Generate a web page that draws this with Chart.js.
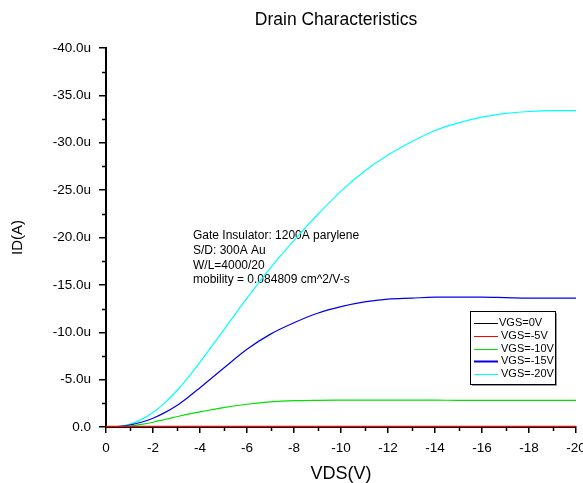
<!DOCTYPE html>
<html>
<head>
<meta charset="utf-8">
<script src="https://cdn.jsdelivr.net/npm/chart.js@4.4.0/dist/chart.umd.min.js"></script>
<style>
  html, body { margin: 0; padding: 0; background: #fff; }
</style>
</head>
<body>
<canvas id="drain-canvas" width="583" height="483"></canvas>
<script>
// VDS sweep (V) and drain current (uA) for each gate voltage
let vds      = [0, -0.5, -1, -1.5, -2, -2.5, -3, -3.5, -4, -5, -6, -7, -8, -9, -10, -11, -12, -13, -14, -15, -16, -17, -18, -19, -20];
let id_vgs0  = [0, 0, 0, 0, 0, 0, 0, 0, 0, 0, 0, 0, 0, 0, 0, 0, 0, 0, 0, 0, 0, 0, 0, 0, 0];
let id_vgs5  = [-0.05, -0.05, -0.05, -0.05, -0.05, -0.05, -0.05, -0.05, -0.05, -0.05, -0.05, -0.05, -0.05, -0.05, -0.05, -0.05, -0.05, -0.05, -0.05, -0.05, -0.05, -0.05, -0.05, -0.05, -0.05];
let id_vgs10 = [0, -0.02, -0.1, -0.27, -0.5, -0.79, -1.08, -1.35, -1.6, -2.05, -2.4, -2.65, -2.78, -2.82, -2.83, -2.83, -2.83, -2.83, -2.83, -2.82, -2.82, -2.81, -2.8, -2.8, -2.8];
let id_vgs15 = [0, -0.03, -0.2, -0.5, -0.93, -1.52, -2.25, -3.15, -4.15, -6.2, -8.2, -9.8, -11.0, -12.0, -12.7, -13.2, -13.5, -13.6, -13.7, -13.7, -13.7, -13.65, -13.6, -13.6, -13.6];
let id_vgs20 = [0, -0.05, -0.28, -0.78, -1.52, -2.55, -3.8, -5.25, -6.85, -10.2, -13.6, -16.8, -19.7, -22.4, -24.9, -27.0, -28.7, -30.1, -31.3, -32.1, -32.7, -33.1, -33.3, -33.4, -33.4];

let series_labels = ['VGS=0V', 'VGS=-5V', 'VGS=-10V', 'VGS=-15V', 'VGS=-20V'];
let series_values = [id_vgs0, id_vgs5, id_vgs10, id_vgs15, id_vgs20];
let series_colors = ['#000000', '#ff0000', '#00e000', '#0000e8', '#00ffff'];

let x_ticks = [0, -2, -4, -6, -8, -10, -12, -14, -16, -18, -20];
let y_ticks = [0, -5, -10, -15, -20, -25, -30, -35, -40];

let notes = [
  'Gate Insulator: 1200A parylene',
  'S/D: 300A Au',
  'W/L=4000/20',
  'mobility = 0.084809 cm^2/V-s'
];

const FONT = '"Liberation Sans", Arial, sans-serif';

let graph_sets = [];
series_values.map((vals, i) => {
  graph_sets.push({
    label: series_labels[i],
    data: vals.map((v, k) => ({ x: vds[k], y: v })),
    borderColor: series_colors[i],
    backgroundColor: series_colors[i],
    borderWidth: i === 1 ? 1.6 : 1.2,
    pointRadius: 0,
    fill: false,
    cubicInterpolationMode: 'monotone',
    order: i === 1 ? -1 : i
  });
});

let extras = {
  id: 'extras',
  beforeDatasetsDraw(chart) {
    const ctx = chart.ctx;
    ctx.save();
    ctx.fillStyle = '#000';
    ctx.font = '12px ' + FONT;
    ctx.textAlign = 'left';
    ctx.textBaseline = 'middle';
    let ys = [236, 251, 265.5, 280];
    notes.forEach((t, i) => ctx.fillText(t, 193, ys[i]));
    ctx.restore();
  },
  afterDraw(chart) {
    const ctx = chart.ctx;
    const xs = chart.scales.x, ys = chart.scales.y;
    ctx.save();
    // minor ticks
    ctx.strokeStyle = '#000';
    ctx.lineWidth = 1.5;
    ctx.beginPath();
    for (let v = -19; v <= -1; v += 2) {
      const px = Math.round(xs.getPixelForValue(v)) + 0.5;
      ctx.moveTo(px, xs.top);
      ctx.lineTo(px, xs.top + 4);
    }
    for (let v = -37.5; v < 0; v += 5) {
      const py = Math.round(ys.getPixelForValue(v)) + 0.5;
      ctx.moveTo(ys.right, py);
      ctx.lineTo(ys.right - 4, py);
    }
    ctx.stroke();

    // title
    ctx.fillStyle = '#000';
    ctx.font = '17.5px ' + FONT;
    ctx.textAlign = 'center';
    ctx.textBaseline = 'middle';
    ctx.fillText('Drain Characteristics', 336, 20);

    // legend box
    ctx.fillStyle = '#999';
    ctx.fillRect(472, 313, 85, 73);
    ctx.fillStyle = '#fff';
    ctx.fillRect(470.5, 311.5, 85, 73);
    ctx.strokeStyle = '#000';
    ctx.lineWidth = 1;
    ctx.strokeRect(470.5, 311.5, 85, 73);
    ctx.font = '11px ' + FONT;
    ctx.textAlign = 'left';
    chart.data.datasets.forEach((ds, i) => {
      const y = 322.7 + i * 12.9;
      ctx.strokeStyle = ds.borderColor;
      ctx.lineWidth = i === 3 ? 2 : 1;
      ctx.beginPath();
      ctx.moveTo(474, Math.round(y) + 0.5);
      ctx.lineTo(498, Math.round(y) + 0.5);
      ctx.stroke();
      ctx.fillStyle = '#000';
      ctx.fillText(ds.label, i === 0 ? 499 : 501, y);
    });
    ctx.restore();
  }
};

var ctx = document.getElementById('drain-canvas').getContext('2d');
window.drainChart = new Chart(ctx, {
  type: 'line',
  data: { datasets: graph_sets },
  plugins: [extras],
  options: {
    responsive: false,
    animation: false,
    devicePixelRatio: 1,
    layout: { padding: { top: 48, right: 7, left: 0, bottom: 0 } },
    plugins: {
      legend: { display: false },
      title: { display: false },
      tooltip: { enabled: false }
    },
    scales: {
      x: {
        type: 'linear',
        min: -20,
        max: 0,
        reverse: true,
        position: 'bottom',
        afterBuildTicks: (scale) => { scale.ticks = x_ticks.map(v => ({ value: v })); },
        afterFit: (scale) => { scale.height = 56; scale.paddingLeft = 0; scale.paddingRight = 0; },
        ticks: {
          color: '#000',
          font: { family: FONT, size: 13.5 },
          padding: 7,
          maxRotation: 0,
          autoSkip: false,
          callback: (v) => String(v)
        },
        grid: { drawOnChartArea: false, drawTicks: true, tickLength: 6, color: '#000', lineWidth: 1.5 },
        border: { display: true, color: '#000', width: 2 },
        title: {
          display: true,
          text: 'VDS(V)',
          color: '#000',
          font: { family: FONT, size: 18, lineHeight: 1 },
          padding: { top: 0, bottom: 0 }
        }
      },
      y: {
        type: 'linear',
        min: -40,
        max: 0,
        reverse: true,
        afterBuildTicks: (scale) => { scale.ticks = y_ticks.map(v => ({ value: v })); },
        afterFit: (scale) => { scale.width = 106; scale.paddingTop = 0; scale.paddingBottom = 0; },
        ticks: {
          color: '#000',
          font: { family: FONT, size: 13.5 },
          padding: 8,
          autoSkip: false,
          callback: (v) => v === 0 ? '0.0' : v.toFixed(1) + 'u'
        },
        grid: { drawOnChartArea: false, drawTicks: true, tickLength: 7, color: '#000', lineWidth: 1.5 },
        border: { display: true, color: '#000', width: 2 },
        title: {
          display: true,
          text: 'ID(A)',
          color: '#000',
          font: { family: FONT, size: 15 },
          padding: { top: 9, bottom: 0 }
        }
      }
    }
  }
});
</script>
</body>
</html>
